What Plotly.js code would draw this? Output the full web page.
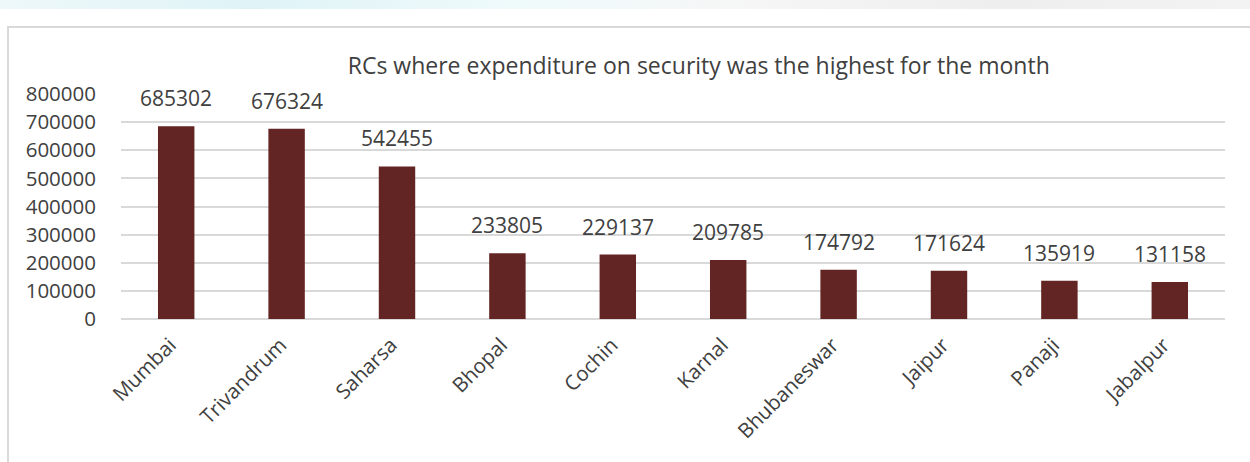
<!DOCTYPE html>
<html>
<head>
<meta charset="utf-8">
<script src="https://cdn.plot.ly/plotly-3.0.1.min.js"></script>
<style>
html,body{margin:0;padding:0;background:#fff;}
#wrap{position:relative;width:1250px;height:462px;overflow:hidden;}
#chart{position:absolute;left:0;top:0;width:1250px;height:462px;}
#frame{position:absolute;left:7px;top:26px;width:1300px;height:500px;border-left:2px solid #d9d9d9;border-top:2px solid #d9d9d9;pointer-events:none;}
#strip{position:absolute;left:0;top:0;width:1250px;height:9px;background:linear-gradient(90deg,#eef8fa 0%,#dff3f6 20%,#eefafb 40%,#f6f6f6 60%,#eeeeee 80%,#f3f3f3 100%);}
</style>
</head>
<body>
<div id="wrap">
<div id="strip"></div>
<div id="chart"></div>
<div id="frame"></div>
</div>
<script>
var categories = ["Mumbai","Trivandrum","Saharsa","Bhopal","Cochin","Karnal","Bhubaneswar","Jaipur","Panaji","Jabalpur"];
var values = [685302,676324,542455,233805,229137,209785,174792,171624,135919,131158];
var tickVals = [0,100000,200000,300000,400000,500000,600000,700000,800000];

var trace = {
  type: 'bar',
  x: categories,
  y: values,
  marker: {color: '#632523'},
  hoverinfo: 'none'
};

var labelAnnotations = categories.map(function(c, i) {
  return {
    x: c, y: values[i], xref: 'x', yref: 'y',
    text: String(values[i]), showarrow: false,
    xanchor: 'center', yanchor: 'bottom', yshift: 12,
    font: {family: 'Open Sans, sans-serif', size: 21, color: '#404040'}
  };
});

var layout = {
  width: 1250, height: 462,
  margin: {l: 121, r: 25, t: 94, b: 143},
  paper_bgcolor: 'rgba(0,0,0,0)',
  plot_bgcolor: 'rgba(0,0,0,0)',
  bargap: 0.67,
  showlegend: false,
  annotations: labelAnnotations,
  title: {
    text: 'RCs where expenditure on security was the highest for the month',
    font: {family: 'Open Sans, sans-serif', size: 23, color: '#404040'},
    x: 0.559, xanchor: 'center', y: 0.858, yanchor: 'middle'
  },
  xaxis: {
    type: 'category',
    tickangle: -45,
    tickfont: {family: 'Open Sans, sans-serif', size: 20.5, color: '#404040'},
    showgrid: false, showline: false, ticks: '', zeroline: false,
    ticklabelstandoff: 9, ticklabelshift: -6
  },
  yaxis: {
    range: [0, 800000],
    tickvals: tickVals,
    ticktext: tickVals.map(String),
    tickfont: {family: 'Open Sans, sans-serif', size: 20.5, color: '#404040'},
    showgrid: true, gridcolor: '#d9d9d9', gridwidth: 2,
    zeroline: true, zerolinecolor: '#d9d9d9', zerolinewidth: 2,
    showline: false, ticks: '', ticklabelstandoff: 24
  }
};

Plotly.newPlot('chart', [trace], layout, {displayModeBar: false, staticPlot: true});
</script>
</body>
</html>
